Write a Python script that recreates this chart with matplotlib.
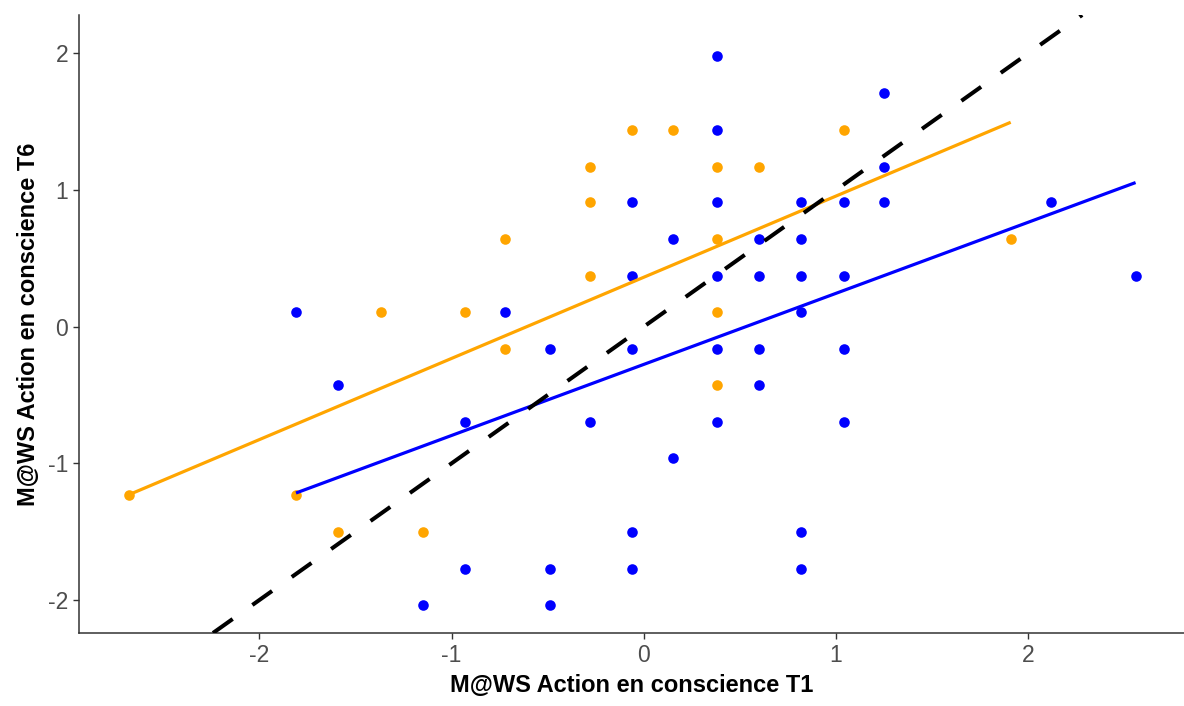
import numpy as np
import matplotlib
matplotlib.use("Agg")
import matplotlib.pyplot as plt

plt.rcParams['font.family'] = ['Liberation Sans', 'DejaVu Sans']
plt.rcParams['axes.unicode_minus'] = False

# --- Data (standardised scores) ---
# orange group
x_orange = [-2.68, -1.81, -1.59, -1.37, -1.15, -0.93, -0.72, -0.72, -0.28, -0.28,
            -0.28, -0.06, 0.15, 0.38, 0.38, 0.38, 0.38, 0.60, 1.04, 1.91]
y_orange = [-1.23, -1.23, -1.50, 0.11, -1.50, 0.11, 0.64, -0.16, 0.37, 0.91,
            1.17, 1.44, 1.44, 1.17, 0.64, 0.11, -0.43, 1.17, 1.44, 0.64]

# blue group
x_blue = [-1.81, -1.59, -1.15, -0.93, -0.93, -0.72, -0.49, -0.49, -0.49, -0.28,
          -0.06, -0.06, -0.06, -0.06, -0.06, 0.15, 0.15, 0.38, 0.38, 0.38,
          0.38, 0.38, 0.38, 0.60, 0.60, 0.60, 0.60, 0.82, 0.82, 0.82,
          0.82, 0.82, 0.82, 1.04, 1.04, 1.04, 1.04, 1.25, 1.25, 1.25,
          2.12, 2.56]
y_blue = [0.11, -0.43, -2.04, -0.70, -1.77, 0.11, -0.16, -1.77, -2.04, -0.70,
          0.91, 0.37, -0.16, -1.50, -1.77, 0.64, -0.96, 1.98, 1.44, 0.91,
          0.37, -0.16, -0.70, 0.64, 0.37, -0.16, -0.43, 0.91, 0.64, 0.37,
          0.11, -1.50, -1.77, 0.91, 0.37, -0.16, -0.70, 1.71, 1.17, 0.91,
          0.91, 0.37]

# regression lines as drawn in the chart (slope, intercept)
fit_orange = (0.594, 0.362)
fit_blue = (0.520, -0.276)

groups = [(x_blue, y_blue, fit_blue, "blue"),
          (x_orange, y_orange, fit_orange, "orange")]

fig = plt.figure(figsize=(11.84, 7.06), dpi=100)
ax = fig.add_axes([0.0671, 0.1034, 0.9329, 0.8754])

# points
for xs, ys, fit, col in groups:
    ax.scatter(xs, ys, s=58, color=col, linewidths=0, zorder=3)

# fitted lines over each group's x range
for xs, ys, fit, col in groups:
    slope, icpt = fit
    xx = np.array([min(xs), max(xs)])
    ax.plot(xx, slope * xx + icpt, color=col, lw=2.3, zorder=4,
            solid_capstyle='butt')

# identity line
ax.axline((0, 0), slope=1, color='black', lw=2.9, dashes=(6, 6), zorder=5)

ax.set_xlim(-2.937, 2.812)
ax.set_ylim(-2.242, 2.282)
ax.set_xticks([-2, -1, 0, 1, 2])
ax.set_yticks([-2, -1, 0, 1, 2])

for side in ['top', 'right']:
    ax.spines[side].set_visible(False)
for side in ['left', 'bottom']:
    ax.spines[side].set_color('#333333')
    ax.spines[side].set_linewidth(1.1)

ax.tick_params(axis='both', colors='#333333', length=4, width=1.0,
               labelsize=16.5, labelcolor='#4D4D4D', pad=4)

ax.set_xlabel("M@WS Action en conscience T1", fontsize=17, fontweight='bold',
              color='black', labelpad=5)
ax.set_ylabel("M@WS Action en conscience T6", fontsize=17, fontweight='bold',
              color='black', labelpad=6)

fig.savefig("out.png", dpi=100)
